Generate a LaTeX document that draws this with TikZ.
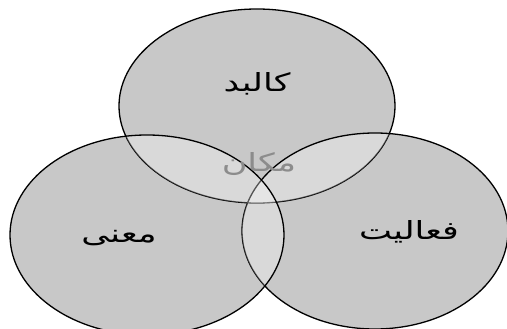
\documentclass[tikz,border=0pt]{standalone}
\usepackage{fontspec}
\newfontfamily\arabicfont[Script=Arabic]{DejaVu Sans}
\TeXXeTstate=1
\definecolor{circfill}{RGB}{200,200,200}
\definecolor{midtext}{RGB}{140,140,140}
\begin{document}
\begin{tikzpicture}[x=1pt,y=-1pt,
  ring/.style={draw=black,line width=1.3pt},
  lighten/.style={fill=white,fill opacity=0.32},
  lbl/.style={font=\arabicfont\fontsize{25}{30}\selectfont,inner sep=0pt,xscale=1.4}]
\useasboundingbox (0,0) rectangle (507,329);
\fill[white] (0,0) rectangle (507,329);
\def\topE{(257,106) ellipse [x radius=138,y radius=97]}
\def\rightE{(375,231) ellipse [x radius=133,y radius=98]}
\def\leftE{(147,235) ellipse [x radius=137,y radius=100]}
% base fills
\fill[circfill] \topE;
\fill[circfill] \rightE;
\fill[circfill] \leftE;
% top outline
\draw[ring] \topE;
% right ellipse lightens what it covers
\begin{scope}
  \clip \rightE;
  \fill[lighten] \topE;
\end{scope}
\draw[ring] \rightE;
% left ellipse lightens what it covers
\begin{scope}
  \clip \leftE;
  \fill[lighten,nonzero rule] \topE \rightE;
\end{scope}
\draw[ring] \leftE;
% labels
\node[lbl] (kalbad) at (257,84) {\beginR کالبد\endR};
\node[lbl,text=midtext] (makan) at (259,164) {\beginR مکان\endR};
\node[lbl] (mana) at (119,238) {\beginR معنی\endR};
\node[lbl] (faaliat) at (409,232) {\beginR فعالیت\endR};
\end{tikzpicture}
\end{document}
